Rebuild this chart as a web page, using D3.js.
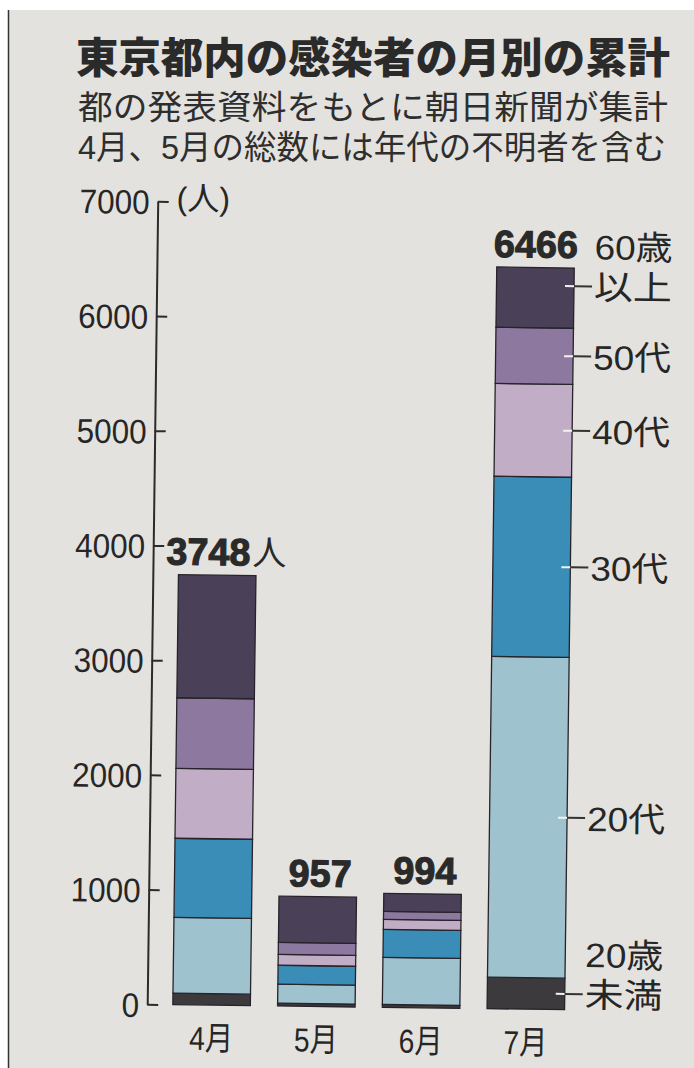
<!DOCTYPE html>
<html>
<head>
<meta charset="utf-8">
<script src="https://cdn.jsdelivr.net/npm/d3@7"></script>
<style>
  body { margin: 0; background: #fff; }
  svg { display: block; }
</style>
</head>
<body>
<svg id="chart" width="694" height="1068"></svg>
<script>
var months = ["4月", "5月", "6月", "7月"];
var totals = [3748, 957, 994, 6466];
var under20 = [100, 25, 25, 275];
var age20s = [660, 165, 410, 2797];
var age30s = [690, 165, 245, 1570];
var age40s = [610, 95, 87, 809];
var age50s = [615, 105, 70, 490];
var age60plus = [1073, 402, 157, 525];
var yTicks = [0, 1000, 2000, 3000, 4000, 5000, 6000, 7000];

var groupKeys = ["under20", "age20s", "age30s", "age40s", "age50s", "age60plus"];
var groupLabels = [["20歳", "未満"], ["20代"], ["30代"], ["40代"], ["50代"], ["60歳", "以上"]];
var groupColors = ["#3d3a3e", "#9ec3cf", "#3a8db6", "#c2adc6", "#8d789f", "#4a4159"];

// build rows for d3.stack
var series = [under20, age20s, age30s, age40s, age50s, age60plus];
var rows = months.map(function (m, i) {
    var r = { month: m, total: totals[i] };
    groupKeys.forEach(function (k, j) { r[k] = series[j][i]; });
    return r;
});

var svg = d3.select("#chart");
var cjk = "'Noto Sans CJK JP', sans-serif";
var latin = "'Liberation Sans', 'Noto Sans CJK JP', sans-serif";

// paper background, white scan margins
svg.append("rect").attr("width", 694).attr("height", 1068).attr("fill", "#fff");
svg.append("rect").attr("x", 8).attr("y", 10).attr("width", 686).attr("height", 1058).attr("fill", "#e4e2de");
svg.append("line").attr("x1", 8.5).attr("x2", 8.5).attr("y1", 10).attr("y2", 1068)
    .attr("stroke", "#333").attr("stroke-width", 1.5);

// Title and notes
svg.append("text")
    .attr("x", 76).attr("y", 73)
    .attr("font-family", latin).attr("font-weight", 900).attr("font-size", 42)
    .attr("fill", "#2a2a2a")
    .attr("textLength", 594).attr("lengthAdjust", "spacingAndGlyphs")
    .text("東京都内の感染者の月別の累計");

svg.append("text")
    .attr("x", 78).attr("y", 119)
    .attr("font-family", latin).attr("font-size", 33.5)
    .attr("fill", "#2e2e2e")
    .attr("textLength", 590).attr("lengthAdjust", "spacingAndGlyphs")
    .text("都の発表資料をもとに朝日新聞が集計");

svg.append("text")
    .attr("x", 78).attr("y", 159)
    .attr("font-family", latin).attr("font-size", 33.5)
    .attr("fill", "#2e2e2e")
    .attr("textLength", 588).attr("lengthAdjust", "spacingAndGlyphs")
    .text("4月、5月の総数には年代の不明者を含む");

// the photo is slightly tilted, so the plot is rotated a bit
var g = svg.append("g").attr("transform", "rotate(0.75, 360, 640)");

var x = d3.scaleBand()
    .domain(months)
    .range([164, 583])
    .paddingInner(0.26)
    .paddingOuter(0.13);

var y = d3.scaleLinear()
    .domain([0, 7000])
    .range([1007, 204]);

var color = d3.scaleOrdinal().domain(groupKeys).range(groupColors);

var stacked = d3.stack().keys(groupKeys)(rows);

// Stacked bars
g.append("g")
    .selectAll("g")
    .data(stacked)
    .enter().append("g")
    .attr("fill", function (d) { return color(d.key); })
    .selectAll("rect")
    .data(function (d) { return d; })
    .enter().append("rect")
    .attr("x", function (d) { return x(d.data.month); })
    .attr("y", function (d) { return y(d[1]); })
    .attr("width", x.bandwidth())
    .attr("height", function (d) { return y(d[0]) - y(d[1]); })
    .attr("stroke", "#26232a")
    .attr("stroke-width", 1.3);

// Y axis
var yAxis = g.append("g")
    .attr("transform", "translate(152,0)")
    .call(d3.axisLeft(y).tickValues(yTicks).tickFormat(d3.format("d"))
        .tickSizeInner(-11).tickSizeOuter(0).tickPadding(8));

yAxis.select(".domain").attr("stroke", "#2b2b2b").attr("stroke-width", 2);
yAxis.selectAll(".tick line").attr("stroke", "#2b2b2b").attr("stroke-width", 2);
yAxis.selectAll(".tick text")
    .attr("fill", "#262626")
    .attr("font-family", latin)
    .attr("font-size", 34)
    .attr("dy", "0.36em")
    .attr("textLength", function (d) { return String(d).length * 17.5; })
    .attr("lengthAdjust", "spacingAndGlyphs");

g.append("text")
    .attr("x", 171).attr("y", 212)
    .attr("font-family", latin).attr("font-size", 32)
    .attr("fill", "#262626")
    .text("(人)");

// Month labels
g.append("g")
    .selectAll("text")
    .data(months)
    .enter().append("text")
    .attr("x", function (d) { return x(d) + x.bandwidth() / 2; })
    .attr("y", 1052)
    .attr("text-anchor", "middle")
    .attr("font-family", latin)
    .attr("font-size", 33)
    .attr("fill", "#262626")
    .attr("textLength", 44).attr("lengthAdjust", "spacingAndGlyphs")
    .text(function (d) { return d; });

// Totals above bars
var totalShift = [-9, 2, 2, 0];
g.append("g")
    .selectAll("text")
    .data(rows)
    .enter().append("text")
    .attr("x", function (d, i) { return x(d.month) + x.bandwidth() / 2 + totalShift[i]; })
    .attr("y", function (d) { return y(d.total) - 10; })
    .attr("text-anchor", "middle")
    .attr("font-family", latin)
    .attr("font-weight", "bold")
    .attr("font-size", 38)
    .attr("fill", "#2a2a2a")
    .attr("stroke", "#2a2a2a")
    .attr("stroke-width", 1.1)
    .attr("textLength", function (d) { return String(d.total).length * 21; })
    .attr("lengthAdjust", "spacingAndGlyphs")
    .text(function (d) { return d.total; });

g.append("text")
    .attr("x", x(months[0]) + x.bandwidth() / 2 - 9 + 44)
    .attr("y", y(totals[0]) - 11)
    .attr("font-family", cjk).attr("font-size", 34)
    .attr("fill", "#2a2a2a")
    .text("人");

// Age group labels beside the July bar
var last = stacked.map(function (s) { return s[s.length - 1]; });
var barRight = x(months[3]) + x.bandwidth();
var labelNudge = [0, 0, 0, 0, 0, -12];

var lab = g.append("g")
    .selectAll("g")
    .data(last)
    .enter().append("g")
    .attr("transform", function (d, i) { return "translate(0," + (y((d[0] + d[1]) / 2) + labelNudge[i]) + ")"; });

lab.append("line")
    .attr("x1", barRight - 9).attr("x2", barRight)
    .attr("stroke", "#f2f2f2").attr("stroke-width", 2);

lab.append("line")
    .attr("x1", barRight).attr("x2", barRight + 18)
    .attr("stroke", "#333").attr("stroke-width", 2);

lab.each(function (d, i) {
    var lines = groupLabels[i];
    var sel = d3.select(this);
    lines.forEach(function (t, k) {
        sel.append("text")
            .attr("x", barRight + 20)
            .attr("y", (k - (lines.length - 1)) * 40)
            .attr("dy", "0.38em")
            .attr("font-family", latin)
            .attr("font-size", 34)
            .attr("fill", "#262626")
            .attr("textLength", 78).attr("lengthAdjust", "spacingAndGlyphs")
            .text(t);
    });
});
</script>
</body>
</html>
